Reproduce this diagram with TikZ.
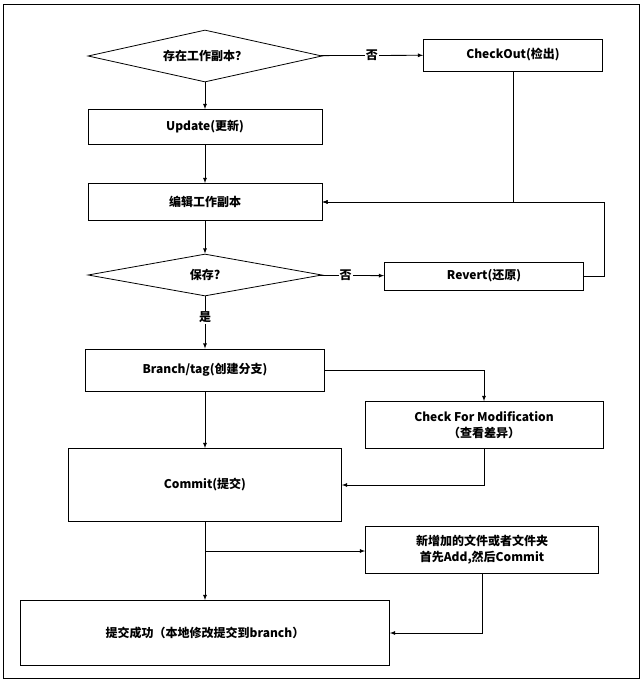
\documentclass[tikz,border=0pt]{standalone}
\usepackage{fontspec}
\setmainfont{Noto Sans CJK SC}
\usetikzlibrary{positioning,shapes.geometric,calc}

\begin{document}
\begin{tikzpicture}[x=1pt,y=-1pt,>=latex,
        box/.style={draw,thick,rectangle,inner sep=2pt,font=\fontsize{12}{16}\selectfont\bfseries,align=center},
        decide/.style={draw,thick,diamond,aspect=5,inner sep=0pt,font=\fontsize{12}{15}\selectfont\bfseries},
        lbl/.style={fill=white,inner sep=1pt,font=\fontsize{12}{15}\selectfont\bfseries}]
      \draw[thick] (3,4) rectangle (639,678);
      \useasboundingbox (0,0) rectangle (643,681);
      %% nodes
      \node[decide,minimum width=234pt,minimum height=52pt] (exist) at (205,56) {存在工作副本？};
      \node[box,minimum width=179pt,minimum height=32pt] (checkout) at (513,55) {CheckOut(检出)};
      \node[box,minimum width=234pt,minimum height=35pt] (update) at (205,127) {Update(更新)};
      \node[box,minimum width=234pt,minimum height=37pt] (edit) at (205,202) {编辑工作副本};
      \node[decide,minimum width=234pt,minimum height=42pt] (save) at (205,275) {保存?};
      \node[box,minimum width=199pt,minimum height=28pt] (revert) at (484,276) {Revert(还原)};
      \node[box,minimum width=239pt,minimum height=42pt] (branch) at (205,370) {Branch/tag(创建分支)};
      \node[box,minimum width=238pt,minimum height=47pt,inner sep=1pt] (check) at (484,425) {Check For Modification\\（查看差异）};
      \node[box,minimum width=273pt,minimum height=73pt] (commit) at (205,485) {Commit(提交)};
      \node[box,minimum width=233pt,minimum height=47pt,inner sep=1pt] (addnew) at (482,550) {新增加的文件或者文件夹\\首先Add,然后Commit};
      \node[box,minimum width=369pt,minimum height=65pt] (done) at (205,633) {提交成功（本地修改提交到branch）};
      \coordinate (fork) at (205,551);
      %% connectors
      \draw[thick,->] (exist) -- node[lbl] {否} (checkout);
      \draw[thick,->] (exist) -- (update);
      \draw[thick,->] (update) -- (edit);
      \draw[thick,->] (checkout) |- (edit);
      \draw[thick,->] (revert.east) -- ++(20,0) |- (edit);
      \draw[thick,->] (edit) -- (save);
      \draw[thick,->] (save) -- node[lbl,pos=0.4] {否} (revert);
      \draw[thick,->] (save) -- node[lbl,pos=0.4] {是} (branch);
      \draw[thick,->] (branch) -| (check);
      \draw[thick,->] (branch) -- (commit);
      \draw[thick,->] (check) |- (commit);
      \draw[thick] (commit) -- (fork);
      \draw[thick,->] (fork) -- (fork-|addnew.west);
      \draw[thick,->] (fork) -- (done);
      \draw[thick,->] (addnew) |- (done);
    \end{tikzpicture}
\end{document}
